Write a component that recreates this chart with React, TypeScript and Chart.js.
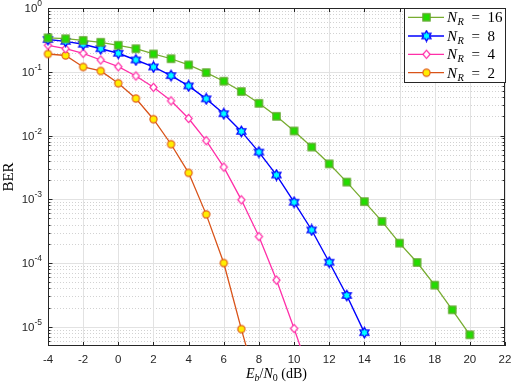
import React, { useEffect, useRef } from 'react';
import { Chart, registerables } from 'chart.js';

Chart.register(...registerables);

// ---------------- data ----------------
const ebn0_16 = [-4, -3, -2, -1, 0, 1, 2, 3, 4, 5, 6, 7, 8, 9, 10, 11, 12, 13, 14, 15, 16, 17, 18, 19, 20];
const ber_16 = [0.34, 0.33, 0.31, 0.29, 0.26, 0.23, 0.19, 0.16, 0.128, 0.097, 0.071, 0.049, 0.032, 0.020, 0.0118, 0.0066, 0.0036, 0.00186, 9.2e-4, 4.5e-4, 2.05e-4, 1.02e-4, 4.5e-5, 1.85e-5, 7.5e-6];

const ebn0_8 = [-4, -3, -2, -1, 0, 1, 2, 3, 4, 5, 6, 7, 8, 9, 10, 11, 12, 13, 14];
const ber_8 = [0.32, 0.30, 0.27, 0.23, 0.195, 0.153, 0.119, 0.087, 0.06, 0.0376, 0.022, 0.0116, 0.0055, 0.0024, 9.0e-4, 3.3e-4, 1.03e-4, 3.1e-5, 8.1e-6];

const ebn0_4 = [-4, -3, -2, -1, 0, 1, 2, 3, 4, 5, 6, 7, 8, 9, 10, 11];
const ber_4 = [0.26, 0.23, 0.195, 0.153, 0.12, 0.086, 0.057, 0.035, 0.0185, 0.0083, 0.0032, 9.8e-4, 2.6e-4, 5.4e-5, 9.4e-6, 1.5e-6];

const ebn0_2 = [-4, -3, -2, -1, 0, 1, 2, 3, 4, 5, 6, 7, 8];
const ber_2 = [0.19, 0.18, 0.119, 0.103, 0.066, 0.038, 0.018, 0.0073, 0.0026, 5.8e-4, 1.0e-4, 9.2e-6, 9.6e-7];

const seriesLabels = ['16', '8', '4', '2'];

const xTicks = [-4, -2, 0, 2, 4, 6, 8, 10, 12, 14, 16, 18, 20, 22];
const yTickExps = [0, -1, -2, -3, -4, -5];

const X_MIN = -4;
const X_MAX = 22;
const Y_MIN = 5e-6;
const Y_MAX = 1;

// ---------------- styles ----------------
const AXIS_COLOR = '#262626';
const GRID_COLOR = '#e2e2e2';
const MINOR_COLOR = '#d2d2d2';
const SANS = '"Liberation Sans", Arial, sans-serif';
const SERIF = '"Liberation Serif", "Times New Roman", serif';

type MarkerKind = 'square' | 'hexagram' | 'diamond' | 'circle';

function makeMarker(kind: MarkerKind): HTMLCanvasElement {
  const c = document.createElement('canvas');
  const S = 13;
  c.width = S;
  c.height = S;
  const g = c.getContext('2d')!;
  const cx = S / 2;
  const cy = S / 2;
  g.lineJoin = 'miter';
  if (kind === 'square') {
    g.fillStyle = '#22dd00';
    g.strokeStyle = '#62a82e';
    g.lineWidth = 1.3;
    g.beginPath();
    g.rect(cx - 3.6, cy - 3.6, 7.2, 7.2);
    g.fill();
    g.stroke();
  } else if (kind === 'hexagram') {
    const R = 5.2;
    const r = R / Math.sqrt(3);
    g.beginPath();
    for (let i = 0; i < 12; i++) {
      const ang = -Math.PI / 2 + (i * Math.PI) / 6;
      const rad = i % 2 === 0 ? R : r;
      const px = cx + rad * Math.cos(ang);
      const py = cy + rad * Math.sin(ang);
      if (i === 0) g.moveTo(px, py);
      else g.lineTo(px, py);
    }
    g.closePath();
    g.fillStyle = '#00ffff';
    g.strokeStyle = '#0000ff';
    g.lineWidth = 1.3;
    g.fill();
    g.stroke();
  } else if (kind === 'diamond') {
    g.beginPath();
    g.moveTo(cx, cy - 4.2);
    g.lineTo(cx + 3.6, cy);
    g.lineTo(cx, cy + 4.2);
    g.lineTo(cx - 3.6, cy);
    g.closePath();
    g.fillStyle = '#ffffff';
    g.strokeStyle = '#ff2fa8';
    g.lineWidth = 1.2;
    g.fill();
    g.stroke();
  } else {
    g.beginPath();
    g.arc(cx, cy, 3.6, 0, Math.PI * 2);
    g.fillStyle = '#ffee00';
    g.strokeStyle = '#e2601a';
    g.lineWidth = 1.2;
    g.fill();
    g.stroke();
  }
  return c;
}

type Seg = { t: string; f: string; dy?: number };

function drawRich(ctx: CanvasRenderingContext2D, segs: Seg[], x: number, y: number, align: 'left' | 'center' | 'right') {
  let w = 0;
  for (const s of segs) {
    ctx.font = s.f;
    w += ctx.measureText(s.t).width;
  }
  let cx = align === 'left' ? x : align === 'center' ? x - w / 2 : x - w;
  for (const s of segs) {
    ctx.font = s.f;
    ctx.fillText(s.t, cx, y + (s.dy || 0));
    cx += ctx.measureText(s.t).width;
  }
}

export default function App() {
  const ref = useRef<HTMLCanvasElement | null>(null);

  useEffect(() => {
    if (!ref.current) return;
    const markers: HTMLCanvasElement[] = [
      makeMarker('square'),
      makeMarker('hexagram'),
      makeMarker('diamond'),
      makeMarker('circle'),
    ];
    const lineColors = ['#77ac30', '#0000ff', '#ff2fa8', '#d95319'];
    const xs = [ebn0_16, ebn0_8, ebn0_4, ebn0_2];
    const ys = [ber_16, ber_8, ber_4, ber_2];

    const datasets = xs.map((xv, i) => ({
      label: 'N_R = ' + seriesLabels[i],
      data: xv.map((v, j) => ({ x: v, y: ys[i][j] })),
      borderColor: lineColors[i],
      backgroundColor: lineColors[i],
      borderWidth: i === 1 ? 1.4 : 1.3,
      pointStyle: markers[i] as any,
      pointRadius: 4,
      tension: 0,
      clip: { left: 12, top: 12, right: 12, bottom: 0 } as any,
      order: i,
    }));

    const axesPlugin = {
      id: 'matlabAxes',
      beforeDatasetsDraw(chart: any) {
        const { ctx, chartArea: a, scales } = chart;
        const x = scales.x;
        const y = scales.y;
        ctx.save();
        // minor dotted horizontal grid
        ctx.lineWidth = 1;
        ctx.strokeStyle = MINOR_COLOR;
        ctx.setLineDash([1, 2]);
        for (let k = -6; k < 0; k++) {
          for (let m = 2; m <= 9; m++) {
            const v = m * Math.pow(10, k);
            if (v < Y_MIN || v > Y_MAX) continue;
            const py = Math.round(y.getPixelForValue(v)) + 0.5;
            ctx.beginPath();
            ctx.moveTo(a.left, py);
            ctx.lineTo(a.right, py);
            ctx.stroke();
          }
        }
        ctx.setLineDash([]);
        // major grid
        ctx.strokeStyle = GRID_COLOR;
        for (const t of xTicks) {
          const px = Math.round(x.getPixelForValue(t)) + 0.5;
          ctx.beginPath();
          ctx.moveTo(px, a.top);
          ctx.lineTo(px, a.bottom);
          ctx.stroke();
        }
        for (const e of yTickExps) {
          const py = Math.round(y.getPixelForValue(Math.pow(10, e))) + 0.5;
          ctx.beginPath();
          ctx.moveTo(a.left, py);
          ctx.lineTo(a.right, py);
          ctx.stroke();
        }
        // box
        ctx.strokeStyle = AXIS_COLOR;
        ctx.lineWidth = 1;
        ctx.strokeRect(a.left + 0.5, a.top + 0.5, a.right - a.left - 1, a.bottom - a.top - 1);
        // ticks
        ctx.beginPath();
        for (const t of xTicks) {
          const px = Math.round(x.getPixelForValue(t)) + 0.5;
          ctx.moveTo(px, a.bottom);
          ctx.lineTo(px, a.bottom - 4);
          ctx.moveTo(px, a.top);
          ctx.lineTo(px, a.top + 4);
        }
        for (let k = -6; k <= 0; k++) {
          for (let m = 1; m <= 9; m++) {
            const v = m * Math.pow(10, k);
            if (v < Y_MIN || v > Y_MAX) continue;
            const py = Math.round(y.getPixelForValue(v)) + 0.5;
            const len = m === 1 ? 4.5 : 2.5;
            ctx.moveTo(a.left, py);
            ctx.lineTo(a.left + len, py);
            ctx.moveTo(a.right, py);
            ctx.lineTo(a.right - len, py);
          }
        }
        ctx.stroke();
        // tick labels
        ctx.fillStyle = AXIS_COLOR;
        ctx.textBaseline = 'alphabetic';
        for (const t of xTicks) {
          const px = x.getPixelForValue(t);
          ctx.font = '11.5px ' + SANS;
          ctx.textAlign = 'center';
          ctx.fillText(String(t), px, a.bottom + 17);
        }
        ctx.textAlign = 'left';
        for (const e of yTickExps) {
          const py = y.getPixelForValue(Math.pow(10, e));
          drawRich(
            ctx,
            [
              { t: '10', f: '11.5px ' + SANS, dy: 4.2 },
              { t: String(e), f: '8.5px ' + SANS, dy: -2 },
            ],
            42,
            py,
            'right'
          );
        }
        // axis labels
        ctx.fillStyle = '#000000';
        drawRich(
          ctx,
          [
            { t: 'E', f: 'italic 14px ' + SERIF },
            { t: 'b', f: 'italic 10px ' + SERIF, dy: 3 },
            { t: '/', f: '14px ' + SERIF },
            { t: 'N', f: 'italic 14px ' + SERIF },
            { t: '0', f: '10px ' + SERIF, dy: 3 },
            { t: ' (dB)', f: '14px ' + SERIF },
          ],
          (a.left + a.right) / 2,
          378,
          'center'
        );
        ctx.save();
        ctx.translate(13, (a.top + a.bottom) / 2);
        ctx.rotate(-Math.PI / 2);
        ctx.font = '15px ' + SERIF;
        ctx.textAlign = 'center';
        ctx.fillText('BER', 0, 0);
        ctx.restore();
        ctx.restore();
      },
      afterDatasetsDraw(chart: any) {
        const { ctx, chartArea: a } = chart;
        ctx.save();
        const bx = 404.5;
        const by = a.top + 0.5;
        const bw = 101;
        const bh = 74;
        ctx.fillStyle = '#ffffff';
        ctx.fillRect(bx, by, bw, bh);
        ctx.strokeStyle = AXIS_COLOR;
        ctx.lineWidth = 1;
        ctx.strokeRect(bx, by, bw, bh);
        const rows = [17.3, 36, 54.3, 72.7];
        rows.forEach((ry, i) => {
          ctx.strokeStyle = lineColors[i];
          ctx.lineWidth = i === 1 ? 1.4 : 1.3;
          ctx.beginPath();
          ctx.moveTo(408, ry);
          ctx.lineTo(444, ry);
          ctx.stroke();
          const mk = markers[i];
          ctx.drawImage(mk, 426.5 - mk.width / 2, ry - mk.height / 2);
          ctx.fillStyle = '#000000';
          ctx.textAlign = 'left';
          ctx.font = 'italic 15px ' + SERIF;
          ctx.fillText('N', 447, ry + 5);
          ctx.font = 'italic 10.5px ' + SERIF;
          ctx.fillText('R', 457.5, ry + 8);
          ctx.font = '15px ' + SERIF;
          ctx.fillText('=', 471.5, ry + 5);
          ctx.fillText(seriesLabels[i], 487.5, ry + 5);
        });
        ctx.restore();
      },
    };

    const chart = new Chart(ref.current, {
      type: 'line',
      data: { datasets: datasets as any },
      options: {
        animation: false,
        responsive: false,
        devicePixelRatio: 1,
        layout: { padding: { left: 48, top: 8, right: 10, bottom: 40 } },
        plugins: { legend: { display: false }, tooltip: { enabled: false } },
        scales: {
          x: { type: 'linear', min: X_MIN, max: X_MAX, display: false },
          y: { type: 'logarithmic', min: Y_MIN, max: Y_MAX, display: false },
        },
      },
      plugins: [axesPlugin],
    });
    return () => chart.destroy();
  }, []);

  return (
    <div style={{ position: 'absolute', left: 0, top: 0, width: 515, height: 386, background: '#ffffff' }}>
      <canvas ref={ref} width={515} height={386} style={{ display: 'block', width: 515, height: 386 }} />
    </div>
  );
}
